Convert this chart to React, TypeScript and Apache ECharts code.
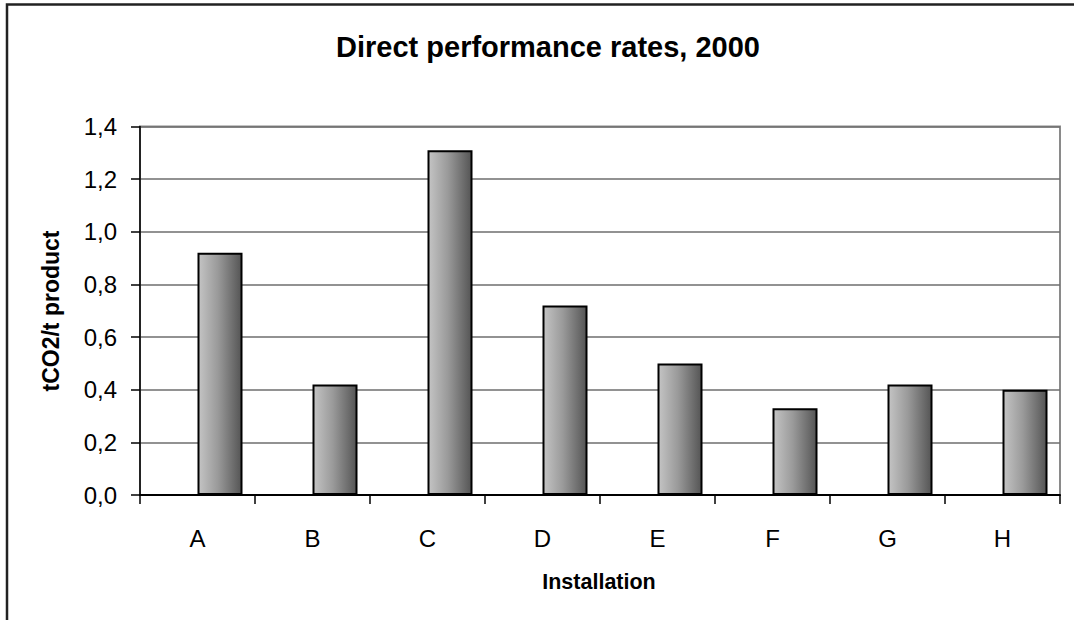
import React, { useEffect, useRef } from "react";
import * as echarts from "echarts";

// Installations and their direct performance rates (tCO2 per tonne of product)
const installations = ["A", "B", "C", "D", "E", "F", "G", "H"];
const rates2000 = [0.92, 0.42, 1.31, 0.72, 0.5, 0.33, 0.42, 0.4];
// Empty companion series: keeps the bar slot to the left of each category centre
const emptySlot = installations.map(() => null);
const yTicks = { min: 0, max: 1.4, interval: 0.2 };

const FONT = "'Liberation Sans', Arial, sans-serif";

export default function App() {
  const ref = useRef<HTMLDivElement>(null);

  useEffect(() => {
    if (!ref.current) return;
    const chart = echarts.init(ref.current, null, { renderer: "svg" });

    const barFill = new echarts.graphic.LinearGradient(0, 0, 1, 0, [
      { offset: 0, color: "#c4c4c4" },
      { offset: 0.45, color: "#9a9a9a" },
      { offset: 1, color: "#555555" },
    ]);

    chart.setOption({
      animation: false,
      backgroundColor: "#ffffff",
      textStyle: { fontFamily: FONT },
      title: {
        text: "Direct performance rates, 2000",
        left: 543,
        top: 27,
        textAlign: "center",
        textStyle: { fontFamily: FONT, fontSize: 29, fontWeight: "bold", color: "#000" },
      },
      grid: {
        left: 140,
        right: 14,
        top: 126.5,
        bottom: 125,
        show: true,
        borderColor: "#8a8a8a",
        borderWidth: 2,
        backgroundColor: "#ffffff",
      },
      xAxis: {
        type: "category",
        data: installations,
        boundaryGap: true,
        axisLine: { show: true, lineStyle: { color: "#000", width: 2 } },
        axisTick: { show: true, length: 9, lineStyle: { color: "#000", width: 1.5 } },
        axisLabel: { margin: 31, fontSize: 24, color: "#000", fontFamily: FONT },
        splitLine: { show: false },
      },
      yAxis: {
        type: "value",
        min: yTicks.min,
        max: yTicks.max,
        interval: yTicks.interval,
        axisLine: { show: true, lineStyle: { color: "#000", width: 1.5 } },
        axisTick: { show: true, length: 9, lineStyle: { color: "#000", width: 1.5 } },
        axisLabel: {
          margin: 23,
          fontSize: 24,
          color: "#000",
          fontFamily: FONT,
          formatter: (v: number) => v.toFixed(1).replace(".", ","),
        },
        splitLine: { show: true, lineStyle: { color: "#6e6e6e", width: 1.5 } },
      },
      series: [
        {
          type: "bar",
          data: emptySlot,
          barWidth: 45,
          barGap: "0%",
          silent: true,
        },
        {
          type: "bar",
          data: rates2000,
          barWidth: 45,
          barGap: "0%",
          itemStyle: { color: barFill, borderColor: "#000", borderWidth: 2 },
        },
      ],
      graphic: [
        {
          type: "rect",
          shape: { x: 7, y: 4.5, width: 2000, height: 2000 },
          style: { fill: "none", stroke: "#222", lineWidth: 2.5 },
          silent: true,
        },
        {
          type: "text",
          x: 51,
          y: 311,
          rotation: Math.PI / 2,
          style: {
            text: "tCO2/t product",
            fontFamily: FONT,
            fontSize: 23,
            fontWeight: "bold",
            fill: "#000",
            align: "center",
            verticalAlign: "middle",
          },
        },
        {
          type: "text",
          x: 599,
          y: 582,
          style: {
            text: "Installation",
            fontFamily: FONT,
            fontSize: 21.5,
            fontWeight: "bold",
            fill: "#000",
            align: "center",
            verticalAlign: "middle",
          },
        },
      ],
    });

    return () => chart.dispose();
  }, []);

  return (
    <div
      ref={ref}
      style={{ position: "fixed", left: 0, top: 0, width: 1074, height: 620 }}
    />
  );
}
